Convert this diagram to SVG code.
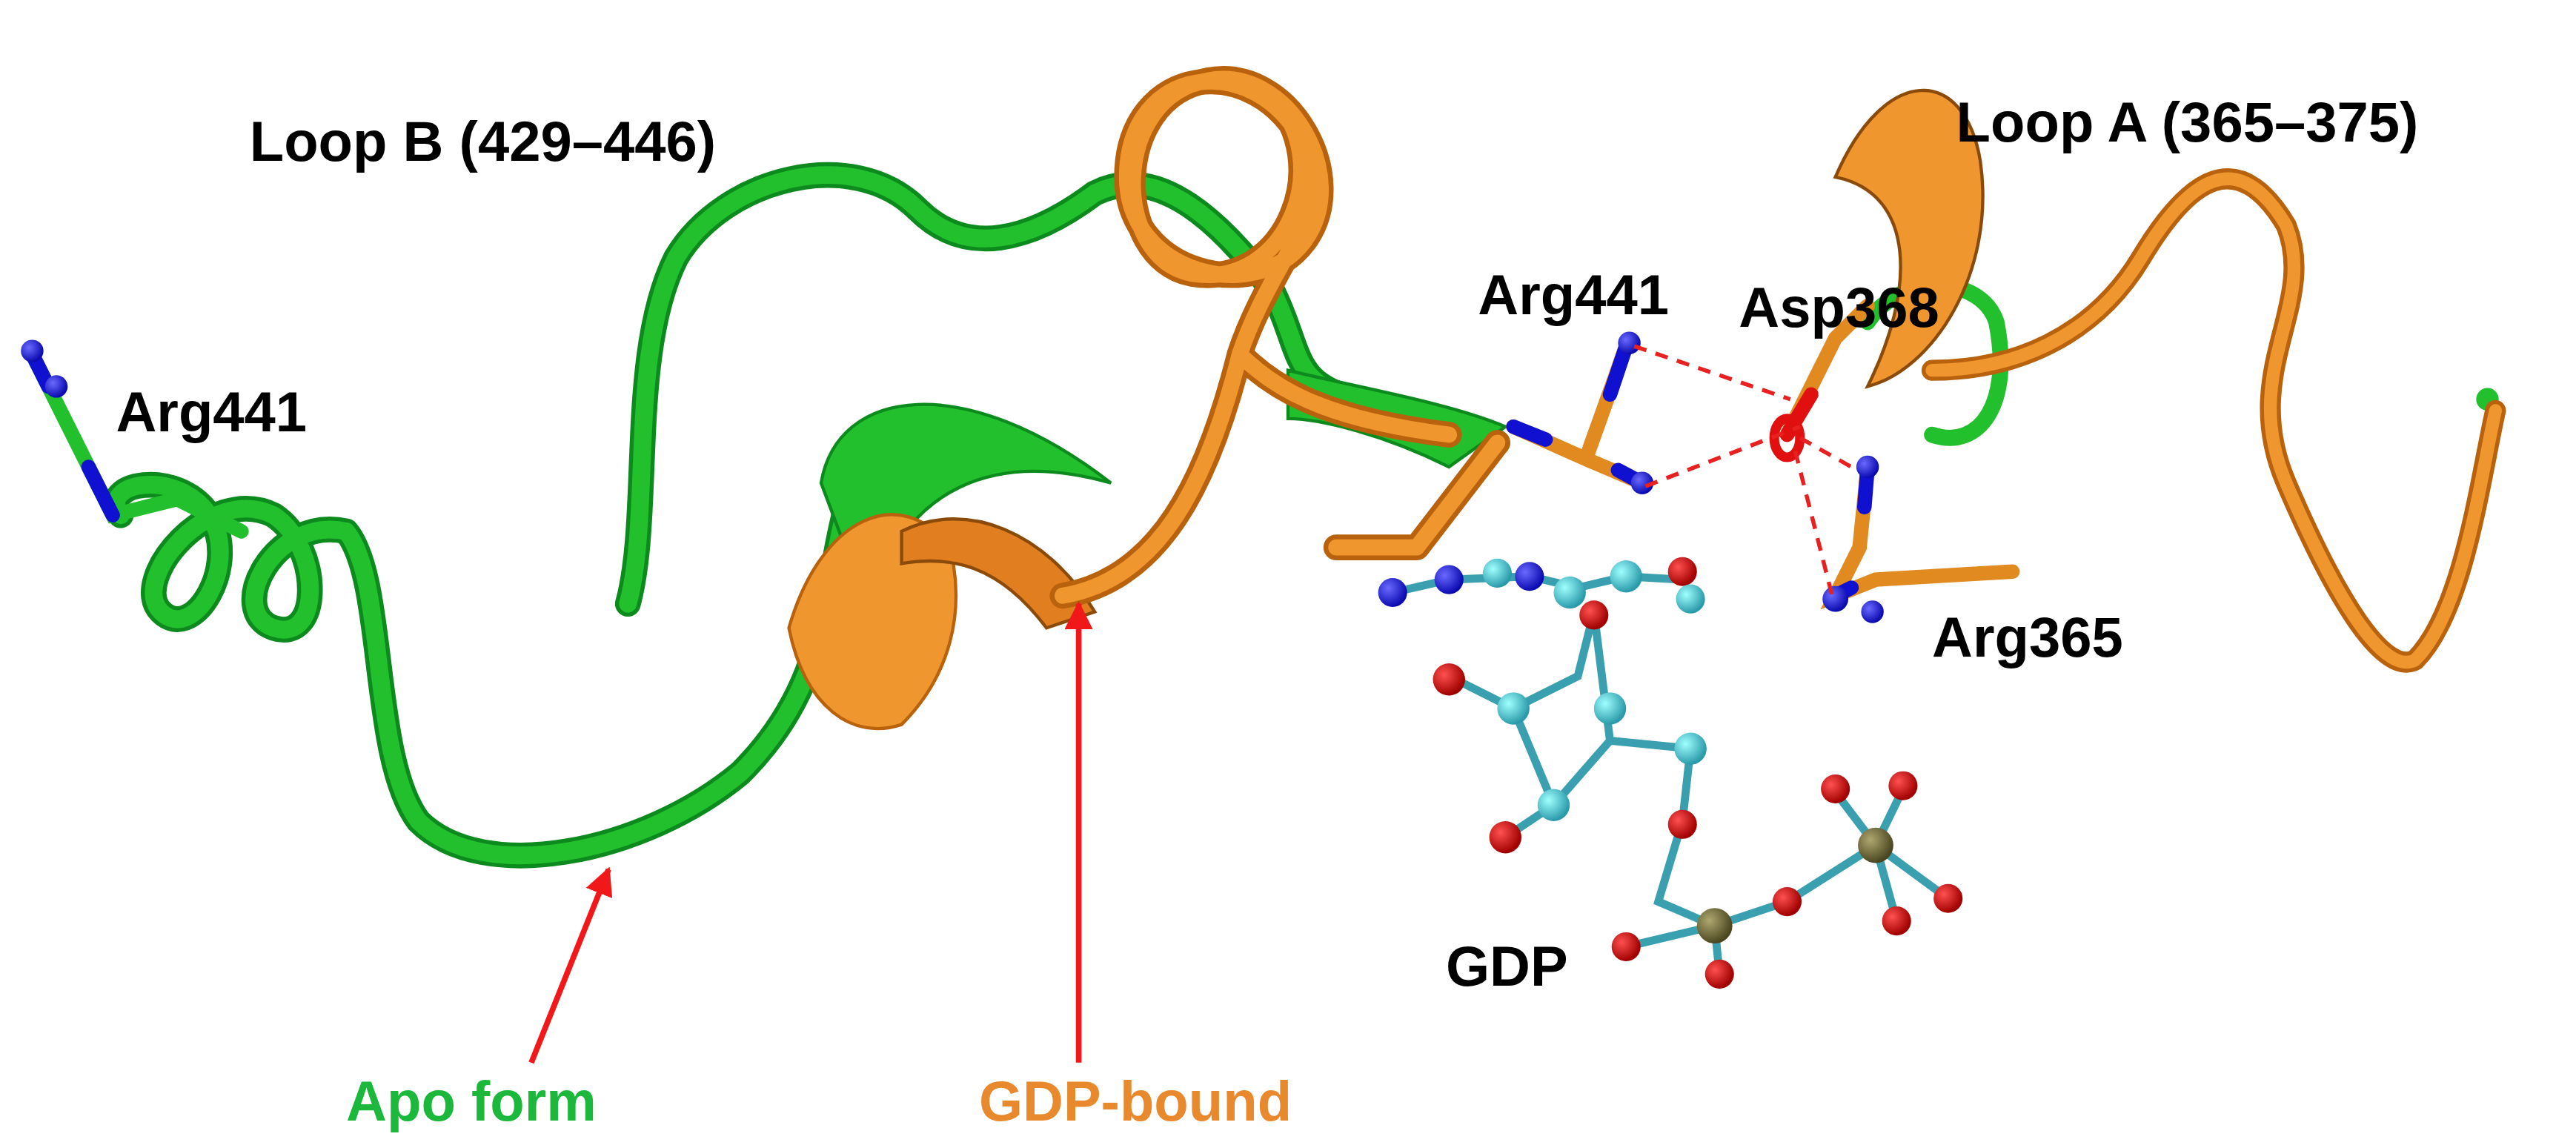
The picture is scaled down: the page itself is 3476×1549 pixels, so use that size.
<svg xmlns="http://www.w3.org/2000/svg" width="3476" height="1549" viewBox="0 0 3476 1549">
<defs>
<style>
.lbl{font-family:"Liberation Sans",Arial,sans-serif;font-weight:bold;font-size:35px;fill:#000}
.gd{fill:none;stroke:#0d8a1e;stroke-linecap:round;stroke-linejoin:round}
.gl{fill:none;stroke:#22c02c;stroke-linecap:round;stroke-linejoin:round}
.od{fill:none;stroke:#b8620e;stroke-linecap:round;stroke-linejoin:round}
.ol{fill:none;stroke:#f0962e;stroke-linecap:round;stroke-linejoin:round}
.st{fill:none;stroke-width:9;stroke-linecap:round}
.dash{fill:none;stroke:#e82020;stroke-width:2.5;stroke-dasharray:8 6}
.arr{stroke:#f01818;stroke-width:3.5}
</style>
<radialGradient id="b" cx="35%" cy="35%" r="65%"><stop offset="0" stop-color="#6a6aff"/><stop offset="1" stop-color="#0a0ab0"/></radialGradient>
<radialGradient id="r" cx="35%" cy="35%" r="65%"><stop offset="0" stop-color="#ff5050"/><stop offset="1" stop-color="#a00000"/></radialGradient>
<radialGradient id="c" cx="35%" cy="35%" r="65%"><stop offset="0" stop-color="#a0ffff"/><stop offset="1" stop-color="#2a9aaa"/></radialGradient>
<radialGradient id="p" cx="35%" cy="35%" r="65%"><stop offset="0" stop-color="#b0a870"/><stop offset="1" stop-color="#4a4620"/></radialGradient>
<marker id="ah" viewBox="0 0 10 10" refX="9" refY="5" markerWidth="5" markerHeight="5" orient="auto"><path d="M0,0 L10,5 L0,10 z" fill="#f01818"/></marker>
</defs>
<rect width="3476" height="1549" fill="#fff"/>
<g transform="scale(2.1725)">
<g id="apo-backbone">
<path class="gd" stroke-width="16" d="M75,320 C60,300 110,290 130,320 C150,350 120,400 100,380 C80,360 130,300 170,320 C200,340 200,400 170,390 C140,380 170,320 215,330 M215,330 C240,360 230,470 260,510 C300,550 400,530 460,480 C520,420 510,360 530,300 M390,375 C405,320 390,220 420,160 C450,110 530,90 570,130 C600,160 640,150 680,120 C720,100 760,140 790,180 C810,220 800,240 850,250 L930,275"/>
<path class="gl" stroke-width="11" d="M75,320 C60,300 110,290 130,320 C150,350 120,400 100,380 C80,360 130,300 170,320 C200,340 200,400 170,390 C140,380 170,320 215,330 M215,330 C240,360 230,470 260,510 C300,550 400,530 460,480 C520,420 510,360 530,300 M390,375 C405,320 390,220 420,160 C450,110 530,90 570,130 C600,160 640,150 680,120 C720,100 760,140 790,180 C810,220 800,240 850,250 L930,275"/>
<path d="M510,300 C520,240 600,230 690,300 C620,280 560,300 540,380 Z" fill="#22c02c" stroke="#0d8a1e" stroke-width="2"/>
<path d="M800,230 C840,240 900,250 935,265 L900,290 C860,270 820,260 800,260 Z" fill="#22c02c" stroke="#0d8a1e" stroke-width="2"/>
<path d="M1160,200 C1180,170 1230,170 1240,200 C1250,250 1230,280 1200,270" class="gl" stroke-width="10"/>
<circle cx="1545" cy="248" r="7" fill="#22c02c"/>
</g>
<g id="gdp-backbone">
<path d="M490,390 C510,320 560,300 590,340 C600,380 590,420 560,450 C530,460 500,440 490,390 Z" fill="#f0962e" stroke="#b8620e" stroke-width="2"/>
<path d="M560,330 C600,310 650,330 680,380 L650,390 C620,350 590,345 560,350 Z" fill="#e07e20" stroke="#8a4a0a" stroke-width="2"/>
<path class="od" stroke-width="16" d="M660,370 C720,360 750,300 770,220 C790,160 830,130 810,90 C780,30 700,40 700,110 C700,170 780,190 810,150 C840,110 800,40 750,50 C690,60 690,160 740,170 C800,180 830,100 790,60 M770,220 C790,240 820,260 900,270 M830,340 L880,340 L930,275"/>
<path class="ol" stroke-width="10" d="M660,370 C720,360 750,300 770,220 C790,160 830,130 810,90 C780,30 700,40 700,110 C700,170 780,190 810,150 C840,110 800,40 750,50 C690,60 690,160 740,170 C800,180 830,100 790,60 M770,220 C790,240 820,260 900,270 M830,340 L880,340 L930,275"/>
<path d="M1140,110 C1170,40 1220,40 1230,100 C1240,170 1200,230 1160,240 C1190,180 1190,120 1140,110 Z" fill="#f0962e" stroke="#8a4a0a" stroke-width="2"/>
<path class="od" stroke-width="13" d="M1200,230 C1250,230 1300,210 1330,160 C1360,110 1390,90 1420,140 C1440,190 1390,230 1420,300 C1450,370 1480,420 1500,410 C1530,380 1540,300 1550,255"/>
<path class="ol" stroke-width="8" d="M1200,230 C1250,230 1300,210 1330,160 C1360,110 1390,90 1420,140 C1440,190 1390,230 1420,300 C1450,370 1480,420 1500,410 C1530,380 1540,300 1550,255"/>
</g>
<g id="arg441-left">
<path class="st" stroke="#22c02c" d="M20,220 L40,260 L70,320 L110,310 L150,330"/>
<path class="st" stroke="#1010d0" d="M20,220 L30,240 M55,290 L70,320"/>
<circle cx="20" cy="218" r="7" fill="url(#b)"/><circle cx="35" cy="240" r="7" fill="url(#b)"/>
</g>
<g id="arg441-mid">
<path class="st" stroke="#e08a20" d="M940,265 L985,285 L1010,215 M985,285 L1020,300"/>
<path class="st" stroke="#1010d0" d="M940,265 L960,273 M1000,245 L1010,215 M1005,292 L1020,300"/>
<circle cx="1012" cy="213" r="7" fill="url(#b)"/><circle cx="1020" cy="300" r="7" fill="url(#b)"/>
</g>
<g id="asp368">
<path class="st" stroke="#e08a20" d="M1110,270 L1140,210 L1160,190"/>
<path class="st" stroke="#e01010" d="M1110,270 L1125,245"/>
<ellipse cx="1110" cy="272" rx="8" ry="12" fill="none" stroke="#e01010" stroke-width="6"/>
</g>
<g id="arg365">
<path class="st" stroke="#e08a20" d="M1160,290 L1155,340 L1140,370 L1165,360 L1250,355"/>
<path class="st" stroke="#1010d0" d="M1160,290 L1158,315 M1140,370 L1150,365"/>
<circle cx="1160" cy="290" r="7" fill="url(#b)"/><circle cx="1140" cy="372" r="8" fill="url(#b)"/><circle cx="1163" cy="380" r="7" fill="url(#b)"/>
</g>
<g id="hbonds">
<path class="dash" d="M1015,215 L1112,248 M1022,302 L1118,265 M1118,272 L1150,290 M1115,280 L1138,370"/>
</g>
<g id="gdp" stroke="#3aa0b0" stroke-width="5" fill="none">
<path d="M865,368 L900,360 L950,358 L980,365 L1010,358 L1045,360 M990,380 L980,420 L940,440 L965,500 L1000,460 L1050,465 L1045,510 L1030,560 L1065,575 L1110,560 L1165,525 M1000,460 L990,380 M900,420 L940,440 M935,520 L965,500 M1065,575 L1010,588 M1065,575 L1068,605 M1165,525 L1140,492 M1165,525 L1182,490 M1165,525 L1210,558 M1165,525 L1178,572"/>
<g stroke="none">
<circle cx="865" cy="368" r="9" fill="url(#b)"/><circle cx="900" cy="360" r="9" fill="url(#b)"/><circle cx="930" cy="356" r="9" fill="url(#c)"/><circle cx="950" cy="358" r="9" fill="url(#b)"/><circle cx="975" cy="368" r="10" fill="url(#c)"/><circle cx="1010" cy="358" r="10" fill="url(#c)"/><circle cx="1045" cy="355" r="9" fill="url(#r)"/><circle cx="1050" cy="372" r="9" fill="url(#c)"/><circle cx="990" cy="382" r="9" fill="url(#r)"/>
<circle cx="900" cy="422" r="10" fill="url(#r)"/><circle cx="940" cy="440" r="10" fill="url(#c)"/><circle cx="1000" cy="440" r="10" fill="url(#c)"/><circle cx="965" cy="500" r="10" fill="url(#c)"/><circle cx="1050" cy="465" r="10" fill="url(#c)"/><circle cx="935" cy="520" r="10" fill="url(#r)"/><circle cx="1045" cy="512" r="9" fill="url(#r)"/>
<circle cx="1065" cy="575" r="11" fill="url(#p)"/><circle cx="1165" cy="525" r="11" fill="url(#p)"/><circle cx="1110" cy="560" r="9" fill="url(#r)"/><circle cx="1010" cy="588" r="9" fill="url(#r)"/><circle cx="1068" cy="605" r="9" fill="url(#r)"/><circle cx="1140" cy="490" r="9" fill="url(#r)"/><circle cx="1182" cy="488" r="9" fill="url(#r)"/><circle cx="1210" cy="558" r="9" fill="url(#r)"/><circle cx="1178" cy="572" r="9" fill="url(#r)"/>
</g>
</g>
<g id="arrows">
<line class="arr" x1="330" y1="660" x2="378" y2="540" marker-end="url(#ah)"/>
<line class="arr" x1="670" y1="660" x2="670" y2="375" marker-end="url(#ah)"/>
</g>
<g id="labels">
<text class="lbl" x="155" y="100">Loop B (429–446)</text>
<text class="lbl" x="1215" y="88">Loop A (365–375)</text>
<text class="lbl" x="72" y="268">Arg441</text>
<text class="lbl" x="918" y="195">Arg441</text>
<text class="lbl" x="1080" y="203">Asp368</text>
<text class="lbl" x="1200" y="408">Arg365</text>
<text class="lbl" x="898" y="612">GDP</text>
<text class="lbl" x="215" y="696" style="fill:#1cb83c">Apo form</text>
<text class="lbl" x="608" y="696" style="fill:#e8892e">GDP-bound</text>
</g>
</g>
</svg>
